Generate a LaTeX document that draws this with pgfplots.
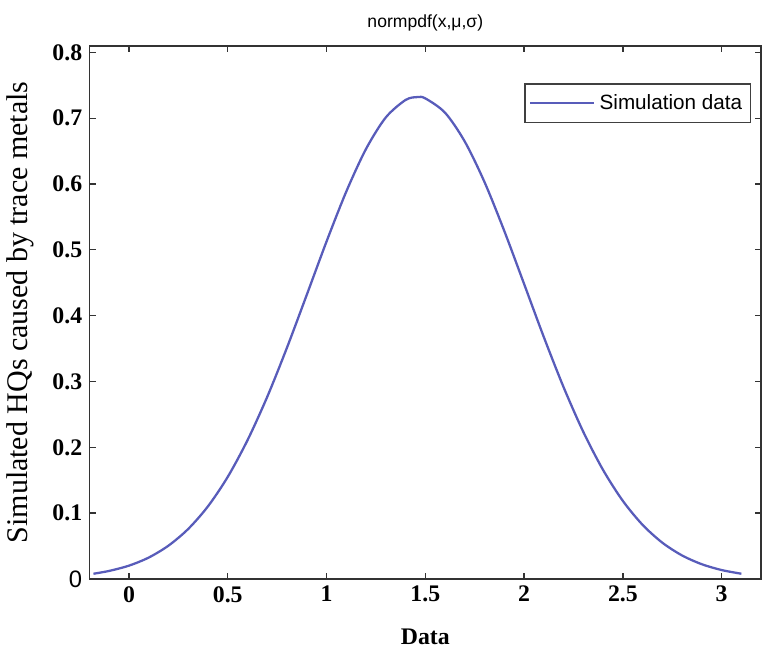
\documentclass[border=0pt]{standalone}
\usepackage{fontspec}
\setmainfont{Liberation Serif}
\setsansfont{Liberation Sans}
\usepackage{pgfplots}
\pgfplotsset{compat=1.18}

\definecolor{simblue}{RGB}{88,92,186}

\begin{document}
\begin{tikzpicture}
\begin{axis}[
    scale only axis,
    width=325pt, height=258pt,
    xmin=-0.2, xmax=3.2,
    ymin=0, ymax=0.81,
    xtick={0,0.5,1,1.5,2,2.5,3},
    xticklabels={0,0.5,1,1.5,2,2.5,3},
    ytick={0,0.1,0.2,0.3,0.4,0.5,0.6,0.7,0.8},
    yticklabels={\textsf{\mdseries 0},0.1,0.2,0.3,0.4,0.5,0.6,0.7,0.8},
    tick align=inside,
    major tick length=3pt,
    tick style={black!80, line width=0.6pt},
    axis line style={black!80, line width=0.8pt},
    ticklabel style={font=\fontsize{11.5}{12}\selectfont\bfseries},
    title={\sffamily\fontsize{8.5}{10}\selectfont\rule{0pt}{10pt}normpdf(x,μ,σ)},
    title style={yshift=-2.5pt},
    xlabel={\bfseries\fontsize{11.5}{12}\selectfont Data},
    xlabel style={yshift=-6pt},
    ylabel={\fontsize{14.5}{16}\selectfont Simulated HQs caused by trace metals},
    ylabel style={yshift=2pt},
    legend style={at={(0.985,0.93)}, anchor=north east,
        draw=black!75, line width=0.7pt,
        font=\sffamily\fontsize{10}{12}\selectfont,
        inner xsep=2pt, inner ysep=3pt},
    legend cell align=left,
    legend image code/.code={\draw[#1] (0pt,0pt) -- (31pt,0pt);},
]
\addplot[simblue, line width=1.1pt, smooth] coordinates {
    (-0.18,0.0079) (-0.1,0.0122) (0,0.0202) (0.1,0.0325) (0.2,0.0506)
    (0.3,0.0760) (0.4,0.1104) (0.5,0.1551) (0.6,0.2108) (0.7,0.2768)
    (0.8,0.3516) (0.9,0.4317) (1.0,0.5126) (1.1,0.5885) (1.2,0.6533)
    (1.3,0.7011) (1.4,0.7276) (1.46,0.7320) (1.5,0.7300) (1.6,0.7082)
    (1.7,0.6643) (1.8,0.6026) (1.9,0.5284) (2.0,0.4481) (2.1,0.3673)
    (2.2,0.2912) (2.3,0.2232) (2.4,0.1654) (2.5,0.1185) (2.6,0.0821)
    (2.7,0.0550) (2.8,0.0356) (2.9,0.0223) (3.0,0.0135) (3.1,0.0079)
};
\addlegendentry{Simulation data}
\end{axis}
\end{tikzpicture}
\end{document}
